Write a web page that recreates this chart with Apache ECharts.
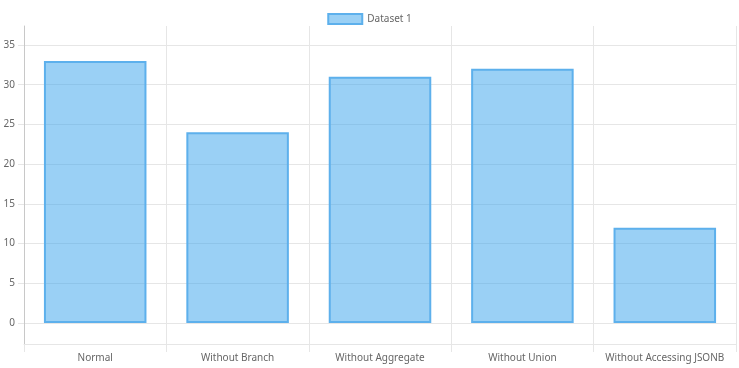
<!DOCTYPE html>
<html>
<head>
<meta charset="utf-8">
<script src="https://cdn.jsdelivr.net/npm/echarts@6/dist/echarts.min.js"></script>
<style>html,body{margin:0;padding:0;background:#fff}#c{width:739px;height:368px}</style>
</head>
<body>
<div id="c"></div>
<script>
const categories = ["Normal", "Without Branch", "Without Aggregate", "Without Union", "Without Accessing JSONB"];
const dataset1 = [33, 24, 31, 32, 12];
const seriesName = "Dataset 1";
const yMin = 0, yMax = 35, yStep = 5;

const font = "'Noto Sans', 'Open Sans', sans-serif";
const grid = "#e6e6e6";
const chart = echarts.init(document.getElementById('c'), null, {renderer: 'canvas'});
chart.setOption({
  animation: false,
  textStyle: {fontFamily: font},
  legend: {
    top: 8, left: 'center', itemWidth: 34, itemHeight: 10, itemGap: 6,
    textStyle: {color: '#666', fontSize: 10, fontFamily: font},
    data: [{name: seriesName, icon: 'rect'}]
  },
  grid: [
    {left: 24, right: 3, top: 45, bottom: 45},
    {left: 24, right: 3, top: 26, bottom: 24}
  ],
  xAxis: [
    {gridIndex: 0, type: 'category', data: categories, show: false},
    {gridIndex: 1, type: 'category', data: categories, boundaryGap: true,
     axisLine: {show: true, lineStyle: {color: grid, width: 1}},
     axisTick: {show: true, interval: 0, length: 8, lineStyle: {color: grid}},
     splitLine: {show: true, interval: 0, lineStyle: {color: grid, width: 1}},
     axisLabel: {color: '#666', fontSize: 10, margin: 9, interval: 0, fontFamily: font}}
  ],
  yAxis: [
    {gridIndex: 0, type: 'value', min: yMin, max: yMax, interval: yStep,
     axisLine: {show: false},
     axisTick: {show: true, length: 6, lineStyle: {color: grid}},
     splitLine: {show: true, lineStyle: {color: grid, width: 1}},
     axisLabel: {color: '#666', fontSize: 10, margin: 9, fontFamily: font}},
    {gridIndex: 1, type: 'value', min: 0, max: 1,
     axisLine: {show: true, lineStyle: {color: '#c8c8c8', width: 1}},
     axisTick: {show: false}, axisLabel: {show: false}, splitLine: {show: false}}
  ],
  series: [{
    name: seriesName, type: 'bar', xAxisIndex: 0, yAxisIndex: 0,
    data: dataset1, barWidth: '72%',
    itemStyle: {color: 'rgba(54,162,235,0.5)', borderColor: '#5db0ec', borderWidth: 2}
  }]
});
</script>
</body>
</html>
